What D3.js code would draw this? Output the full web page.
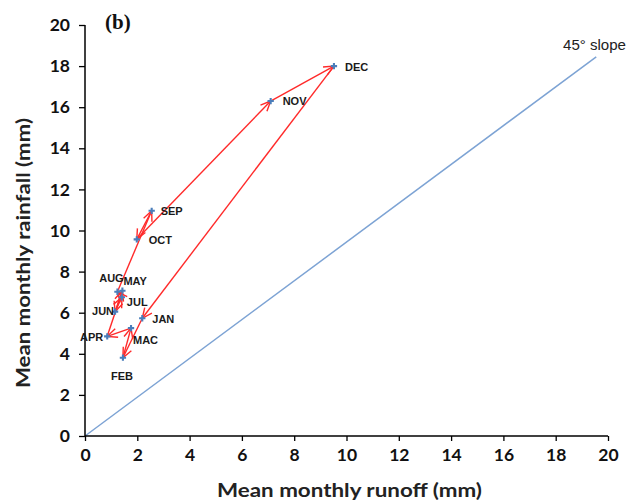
<!DOCTYPE html>
<html><head><meta charset="utf-8">
<script src="https://cdn.jsdelivr.net/npm/d3@7"></script>
<style>body{margin:0;background:#fff}</style>
</head><body>
<script>
const months = ["JAN","FEB","MAC","APR","MAY","JUN","JUL","AUG","SEP","OCT","NOV","DEC"];
const runoff = [2.19, 1.45, 1.76, 0.85, 1.43, 1.15, 1.41, 1.24, 2.55, 1.98, 7.10, 9.52];
const rainfall = [5.73, 3.81, 5.25, 4.85, 7.07, 6.05, 6.75, 7.02, 10.96, 9.57, 16.3, 18.0];
const xTicks = [0,2,4,6,8,10,12,14,16,18,20];
const yTicks = [0,2,4,6,8,10,12,14,16,18,20];
const slopeLine = [[0,0],[19.55,18.45]];

// label placement (pixels relative to marker)
const labelPos = {
  JAN:[10,1,"start"], FEB:[-1,18,"middle"], MAC:[2,12,"start"], APR:[-4,1,"end"],
  MAY:[1,-10,"start"], JUN:[-1,-1,"end"], JUL:[5,5,"start"], AUG:[-6,-14,"middle"],
  SEP:[9,0,"start"], OCT:[12,1,"start"], NOV:[12,0,"start"], DEC:[11,1,"start"]
};

const W=629,H=502;
const svg=d3.select("body").append("svg").attr("width",W).attr("height",H);
const x=d3.scaleLinear().domain([0,20]).range([85,608]);
const y=d3.scaleLinear().domain([0,20]).range([436,25]);

const defs=svg.append("defs");
defs.append("marker").attr("id","arr").attr("viewBox","-1 -6 12 12")
  .attr("refX",10).attr("refY",0).attr("markerWidth",12).attr("markerHeight",12)
  .attr("markerUnits","userSpaceOnUse").attr("orient","auto")
  .append("path").attr("d","M0,-4.5L10,0L0,4.5").attr("fill","none")
  .attr("stroke","#ff2a2a").attr("stroke-width",1.4);

// slope line
svg.append("line").attr("x1",x(slopeLine[0][0])).attr("y1",y(slopeLine[0][1]))
  .attr("x2",x(slopeLine[1][0])).attr("y2",y(slopeLine[1][1]))
  .attr("stroke","#7da3d4").attr("stroke-width",1.5);
svg.append("text").attr("x",563).attr("y",50)
  .attr("font-family","Liberation Sans, Arial, sans-serif").attr("font-size",14)
  .attr("textLength",63).attr("lengthAdjust","spacingAndGlyphs")
  .attr("fill","#222").text("45° slope");

// axes
const fontAx="Lato, sans-serif";
const xa=svg.append("g").attr("transform","translate(0,436)")
  .call(d3.axisBottom(x).tickValues(xTicks).tickSize(5).tickPadding(8).tickFormat(d3.format("d")));
const ya=svg.append("g").attr("transform","translate(85,0)")
  .call(d3.axisLeft(y).tickValues(yTicks).tickSize(6).tickPadding(9).tickFormat(d3.format("d")));
[xa,ya].forEach(g=>{
  g.select(".domain").attr("stroke","#000").attr("stroke-width",1.5);
  g.selectAll(".tick line").attr("stroke","#000").attr("stroke-width",1.3);
  g.selectAll("text").attr("font-family",fontAx).attr("font-weight","bold")
   .attr("font-size",17.5).attr("fill","#111");
});
xa.selectAll(".domain").attr("d","M85,0H608");
ya.selectAll(".domain").attr("d","M0,436V25");

// axis titles
svg.append("text").attr("x",217).attr("y",497)
  .attr("textLength",265).attr("lengthAdjust","spacingAndGlyphs")
  .attr("font-family",fontAx).attr("font-weight","bold").attr("font-size",18.5)
  .attr("fill","#222").text("Mean monthly runoff (mm)");
svg.append("text").attr("transform","translate(30,388) rotate(-90)")
  .attr("textLength",270).attr("lengthAdjust","spacingAndGlyphs")
  .attr("font-family",fontAx).attr("font-weight","bold").attr("font-size",18.5)
  .attr("fill","#222").text("Mean monthly rainfall (mm)");
svg.append("text").attr("x",105).attr("y",29).attr("font-family","Liberation Serif, serif")
  .attr("font-weight","bold").attr("font-size",21).attr("fill","#111").text("(b)");

// arrows between consecutive months
const g=svg.append("g");
months.forEach((m,i)=>{
  const j=(i+1)%months.length;
  g.append("line").attr("x1",x(runoff[i])).attr("y1",y(rainfall[i]))
   .attr("x2",x(runoff[j])).attr("y2",y(rainfall[j]))
   .attr("stroke","#ff2a2a").attr("stroke-width",1.4).attr("marker-end","url(#arr)");
});

// markers
const star=d3.symbol().type(d3.symbolCross).size(22);
months.forEach((m,i)=>{
  svg.append("path").attr("d",star).attr("transform",`translate(${x(runoff[i])},${y(rainfall[i])})`)
   .attr("fill","#4a7ebb");
});

// labels
months.forEach((m,i)=>{
  const p=labelPos[m];
  svg.append("text").attr("x",x(runoff[i])+p[0]).attr("y",y(rainfall[i])+p[1])
   .attr("dy","0.35em").attr("text-anchor",p[2])
   .attr("font-family","Liberation Sans, Arial, sans-serif").attr("font-weight","bold")
   .attr("font-size",11).attr("fill","#1a1a1a").text(m);
});
</script>
</body></html>
